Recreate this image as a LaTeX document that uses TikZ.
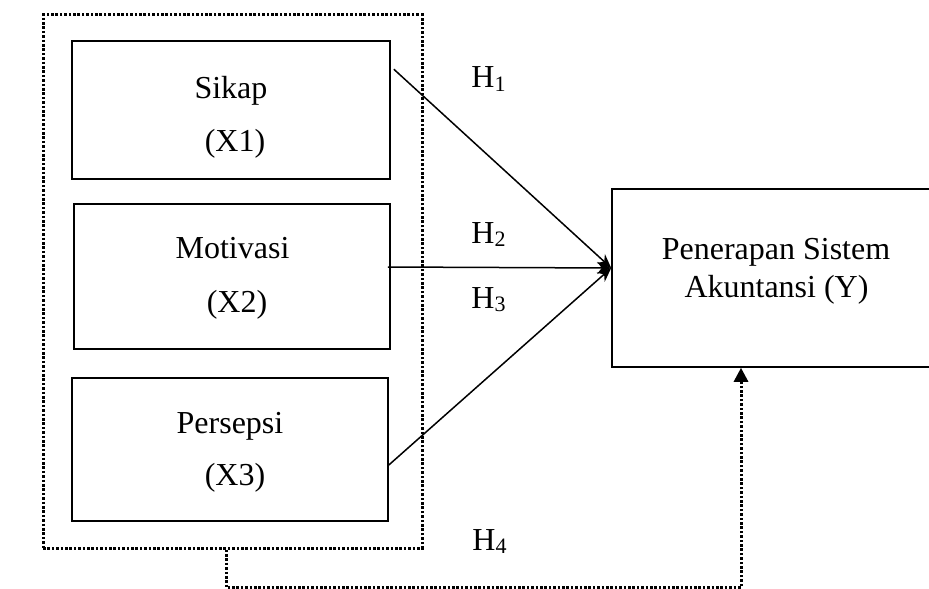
\documentclass[tikz,border=0pt]{standalone}
\usepackage{fontspec}
\setmainfont{Liberation Serif}
\usetikzlibrary{arrows.meta,calc}
\newcommand{\hyp}[1]{H\raisebox{-0.12em}{\fontsize{11}{12}\selectfont #1}}
\begin{document}
\begin{tikzpicture}[x=0.5pt,y=-0.5pt,
  box/.style={draw, line width=0.8pt, inner sep=0pt},
  dotline/.style={line width=1.5pt, dash pattern=on 1.3pt off 0.9pt},
  dotbox/.style={draw, dotline},
  lbl/.style={anchor=base, inner sep=0pt, font=\fontsize{16}{19}\selectfont},
  hl/.style={anchor=base west, inner sep=0pt, font=\fontsize{16}{19}\selectfont},
  link/.style={line width=0.75pt, -{Stealth[length=7pt,width=6pt]}}]
\useasboundingbox (0,0) rectangle (929,588);
\clip (0,0) rectangle (929,588);
% boxes
\node[dotbox, minimum width=189.5pt, minimum height=266.5pt] (o) at (232.5,281.5) {};
\node[box, minimum width=159pt, minimum height=69pt] (s1) at (231,110) {};
\node[box, minimum width=158pt, minimum height=72.5pt] (m) at (232,276.5) {};
\node[box, minimum width=158pt, minimum height=71.5pt] (p) at (230,449.5) {};
\node[box, minimum width=161.5pt, minimum height=89pt] (y) at (773.5,278) {};
% texts
\node[lbl] (t1) at (231,99) {Sikap};
\node[lbl] (t1b) at (235,152) {(X1)};
\node[lbl] (t2) at (232.5,258) {Motivasi};
\node[lbl] (t2b) at (237,312) {(X2)};
\node[lbl] (t3) at (230,433) {Persepsi};
\node[lbl] (t3b) at (235,485) {(X3)};
\node[lbl] (ty) at (776,259) {Penerapan Sistem};
\node[lbl] (tyb) at (776.5,297) {Akuntansi (Y)};
% hypothesis labels
\node[hl] (h1) at (471,88) {\hyp{1}};
\node[hl] (h2) at (471,243) {\hyp{2}};
\node[hl] (h3) at (471,308) {\hyp{3}};
\node[hl] (h4) at (472,550) {\hyp{4}};
% connectors
\coordinate (tip) at ($(y.west)+(0,-10)$);
\draw[link] ($(s1.north east)+(3,29)$) -- (tip);
\draw[link] ($(m.east)+(-3,-9.5)$) -- (tip);
\draw[link] ($(p.east)+(0,15.5)$) -- (tip);
\draw[dotline, -{Triangle[length=7pt,width=7pt]}]
  ($(o.south)+(-6.5,0)$) -- ++(0,38) -| ($(y.south)+(-32.5,0)$);
\end{tikzpicture}
\end{document}
